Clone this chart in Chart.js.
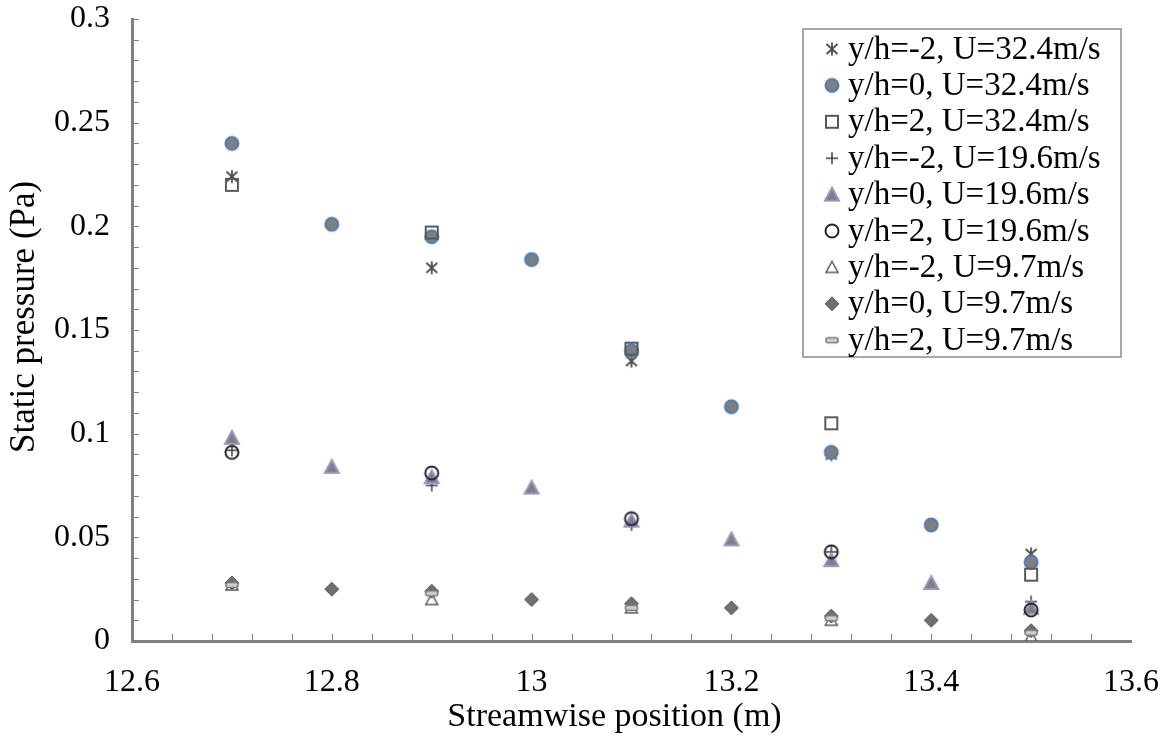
<!DOCTYPE html>
<html>
<head>
<meta charset="utf-8">
<script src="https://cdn.jsdelivr.net/npm/chart.js@4.4.1/dist/chart.umd.min.js"></script>
<style>
  html, body { margin: 0; padding: 0; background: #fff; }
</style>
</head>
<body>
<canvas id="chart" width="1161" height="738"></canvas>
<script>
// positions (m)
const xAll = [12.7, 12.8, 12.9, 13.0, 13.1, 13.2, 13.3, 13.4, 13.5];
const xOdd = [12.7, 12.9, 13.1, 13.3, 13.5];

const xTickValues = [12.6, 12.8, 13.0, 13.2, 13.4, 13.6];
const xTickLabels = ['12.6', '12.8', '13', '13.2', '13.4', '13.6'];
const yTickValues = [0, 0.05, 0.1, 0.15, 0.2, 0.25, 0.3];
const yTickLabels = ['0', '0.05', '0.1', '0.15', '0.2', '0.25', '0.3'];

// static pressure (Pa)
const m2_U324 = [0.224, 0.180, 0.135, 0.090, 0.042];
const p0_U324 = [0.240, 0.201, 0.195, 0.184, 0.140, 0.113, 0.091, 0.056, 0.038];
const p2_U324 = [0.220, 0.197, 0.141, 0.105, 0.032];
const m2_U196 = [0.092, 0.075, 0.056, 0.043, 0.019];
const p0_U196 = [0.098, 0.084, 0.079, 0.074, 0.058, 0.049, 0.039, 0.028, 0.016];
const p2_U196 = [0.091, 0.081, 0.059, 0.043, 0.015];
const m2_U97 = [0.027, 0.020, 0.016, 0.010, 0.002];
const p0_U97 = [0.028, 0.025, 0.024, 0.020, 0.018, 0.016, 0.012, 0.010, 0.005];
const p2_U97 = [0.027, 0.023, 0.016, 0.011, 0.004];

const FONT = '"Liberation Serif", "Times New Roman", serif';

// little canvases used as point styles (Excel-like markers)
function marker(kind) {
  const c = document.createElement('canvas');
  c.width = 20; c.height = 20;
  const g = c.getContext('2d');
  g.translate(10, 10);
  g.beginPath();
  if (kind === 'asterisk') {
    g.strokeStyle = '#4d4d4d'; g.lineWidth = 1.8;
    g.moveTo(0, -6.5); g.lineTo(0, 6.5);
    g.moveTo(-5.5, -5); g.lineTo(5.5, 5);
    g.moveTo(-5.5, 5); g.lineTo(5.5, -5);
    g.stroke();
  } else if (kind === 'dot') {
    g.arc(0, 0, 6.5, 0, Math.PI * 2);
    g.fillStyle = '#7f7f7f'; g.fill();
    g.strokeStyle = '#4a7ebb'; g.lineWidth = 2; g.stroke();
  } else if (kind === 'square') {
    g.strokeStyle = '#595959'; g.lineWidth = 2;
    g.strokeRect(-6, -6, 12, 12);
  } else if (kind === 'plus') {
    g.strokeStyle = '#404040'; g.lineWidth = 1.5;
    g.moveTo(-6, 0); g.lineTo(6, 0);
    g.moveTo(0, -6); g.lineTo(0, 6);
    g.stroke();
  } else if (kind === 'tri') {
    g.moveTo(0, -7); g.lineTo(7, 6); g.lineTo(-7, 6); g.closePath();
    g.fillStyle = '#7f7f7f'; g.fill();
    g.strokeStyle = '#a193c6'; g.lineWidth = 2; g.stroke();
  } else if (kind === 'ring') {
    g.arc(0, 0, 6.5, 0, Math.PI * 2);
    g.strokeStyle = '#262626'; g.lineWidth = 2; g.stroke();
  } else if (kind === 'opentri') {
    g.moveTo(0, -6); g.lineTo(6, 5); g.lineTo(-6, 5); g.closePath();
    g.strokeStyle = '#595959'; g.lineWidth = 1.5; g.stroke();
  } else if (kind === 'diamond') {
    g.moveTo(0, -7); g.lineTo(7, 0); g.lineTo(0, 7); g.lineTo(-7, 0); g.closePath();
    g.fillStyle = '#707070'; g.fill();
    g.strokeStyle = '#595959'; g.lineWidth = 1; g.stroke();
  } else if (kind === 'dash') {
    g.roundRect(-6, -2.5, 12, 5, 2);
    g.fillStyle = '#d0d0d0'; g.fill();
    g.strokeStyle = '#7a7a7a'; g.lineWidth = 1.5; g.stroke();
  }
  return c;
}

function pts(xs, ys) {
  return xs.map((x, i) => ({ x: x, y: ys[i] }));
}

const series = [
  ['y/h=-2, U=32.4m/s', xOdd, m2_U324, 'asterisk'],
  ['y/h=0, U=32.4m/s', xAll, p0_U324, 'dot'],
  ['y/h=2, U=32.4m/s', xOdd, p2_U324, 'square'],
  ['y/h=-2, U=19.6m/s', xOdd, m2_U196, 'plus'],
  ['y/h=0, U=19.6m/s', xAll, p0_U196, 'tri'],
  ['y/h=2, U=19.6m/s', xOdd, p2_U196, 'ring'],
  ['y/h=-2, U=9.7m/s', xOdd, m2_U97, 'opentri'],
  ['y/h=0, U=9.7m/s', xAll, p0_U97, 'diamond'],
  ['y/h=2, U=9.7m/s', xOdd, p2_U97, 'dash']
];

const datasets = series.map((s, i) => ({
  label: s[0],
  data: pts(s[1], s[2]),
  pointStyle: marker(s[3]),
  pointRadius: 7,
  showLine: false,
  order: series.length - i   // later series on top, like Excel
}));

// legend box drawn inside the plot area
const boxLegend = {
  id: 'boxLegend',
  afterDraw(chart) {
    const ctx = chart.ctx, a = chart.chartArea;
    const w = 318, h = 328;
    const x0 = a.right - w - 10, y0 = a.top + 10;
    ctx.save();
    ctx.fillStyle = '#fff';
    ctx.fillRect(x0, y0, w, h);
    ctx.strokeStyle = '#8c8c8c';
    ctx.lineWidth = 1.5;
    ctx.strokeRect(x0, y0, w, h);
    ctx.font = '33px ' + FONT;
    ctx.textBaseline = 'middle';
    ctx.fillStyle = '#000';
    chart.data.datasets.forEach((ds, i) => {
      const cy = y0 + 20 + i * 36.4;
      const img = ds.pointStyle;
      ctx.drawImage(img, x0 + 29 - img.width / 2, cy - img.height / 2);
      ctx.fillText(ds.label, x0 + 45, cy + 1);
    });
    ctx.restore();
  }
};

// small inside minor ticks on both axes
const minorTicks = {
  id: 'minorTicks',
  beforeDatasetsDraw(chart) {
    const ctx = chart.ctx, a = chart.chartArea;
    const xs = chart.scales.x, ys = chart.scales.y;
    ctx.save();
    ctx.strokeStyle = '#808080';
    ctx.lineWidth = 1;
    ctx.beginPath();
    for (let k = 1; k < 25; k++) {
      const px = Math.round(xs.getPixelForValue(12.6 + k * 0.04)) + 0.5;
      ctx.moveTo(px, a.bottom);
      ctx.lineTo(px, a.bottom - 7);
    }
    for (let k = 1; k <= 30; k++) {
      const py = Math.round(ys.getPixelForValue(k * 0.01)) + 0.5;
      ctx.moveTo(a.left, py);
      ctx.lineTo(a.left + 7, py);
    }
    ctx.stroke();
    ctx.restore();
  }
};

new Chart(document.getElementById('chart'), {
  type: 'scatter',
  data: { datasets: datasets },
  plugins: [minorTicks, boxLegend],
  options: {
    responsive: false,
    animation: false,
    devicePixelRatio: 1,
    layout: { padding: { top: 19, right: 30, bottom: 0, left: 0 }, autoPadding: false },
    plugins: { legend: { display: false }, tooltip: { enabled: false } },
    scales: {
      x: {
        type: 'linear', min: 12.6, max: 13.6,
        afterFit: s => { s.height = 97; s.paddingLeft = 0; s.paddingRight = 0; },
        afterBuildTicks: s => { s.ticks = xTickValues.map(v => ({ value: v })); },
        grid: { drawOnChartArea: false, drawTicks: false },
        border: { color: '#808080', width: 3 },
        ticks: {
          padding: 22, color: '#000', maxRotation: 0, autoSkip: false,
          font: { family: FONT, size: 32 },
          callback: (v, i) => xTickLabels[i]
        },
        title: {
          display: true, text: 'Streamwise position (m)\u00a0\u00a0\u00a0\u00a0', color: '#000',
          font: { family: FONT, size: 34 }, padding: { top: 0, bottom: 1 }
        }
      },
      y: {
        type: 'linear', min: 0, max: 0.3,
        afterFit: s => { s.width = 132; s.paddingTop = 0; s.paddingBottom = 0; },
        afterBuildTicks: s => { s.ticks = yTickValues.map(v => ({ value: v })); },
        grid: { drawOnChartArea: false, drawTicks: false },
        border: { color: '#808080', width: 3 },
        ticks: {
          padding: 22, color: '#000',
          font: { family: FONT, size: 32 },
          callback: (v, i) => yTickLabels[i]
        },
        title: {
          display: true, text: '\u00a0\u00a0\u00a0Static pressure (Pa)', color: '#000',
          font: { family: FONT, size: 35 }, padding: { top: 4, bottom: 0 }
        }
      }
    }
  }
});
</script>
</body>
</html>
